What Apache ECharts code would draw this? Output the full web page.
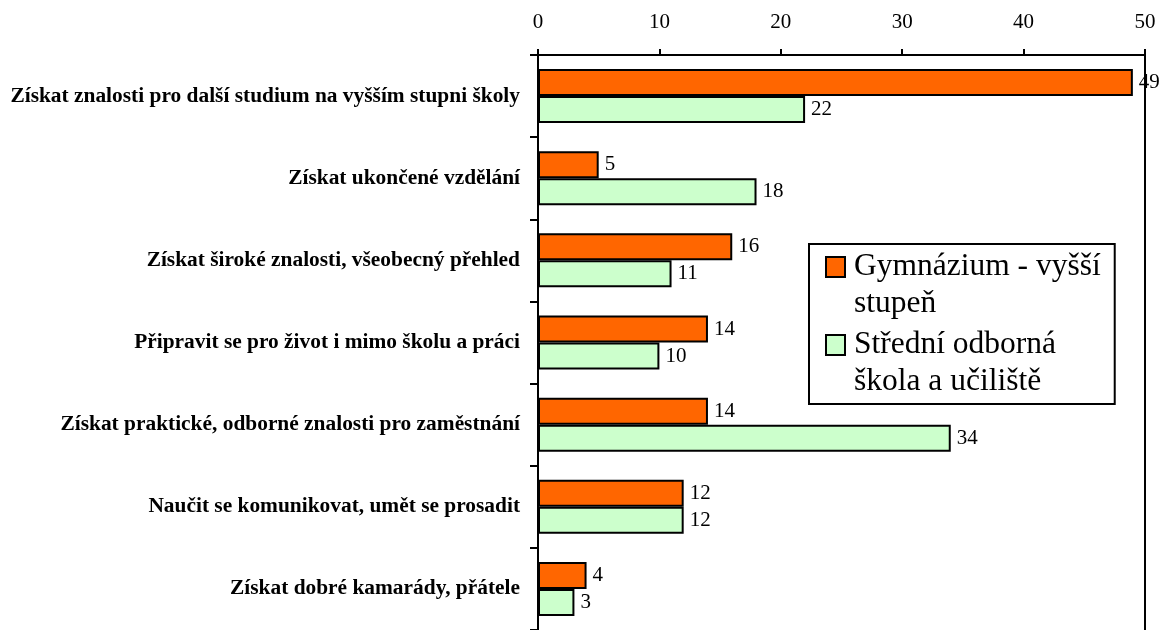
<!DOCTYPE html>
<html>
<head>
<meta charset="utf-8">
<script src="https://cdn.jsdelivr.net/npm/echarts@6/dist/echarts.min.js"></script>
<style>
  html, body { margin: 0; padding: 0; background: #fff; }
  #chart { width: 1163px; height: 630px; }
</style>
</head>
<body>
<div id="chart"></div>
<script>
  // kategorie (shora dolů)
  var categories = [
    'Získat znalosti pro další studium na vyšším stupni školy',
    'Získat ukončené vzdělání',
    'Získat široké znalosti, všeobecný přehled',
    'Připravit se pro život i mimo školu a práci',
    'Získat praktické, odborné znalosti pro zaměstnání',
    'Naučit se komunikovat, umět se prosadit',
    'Získat dobré kamarády, přátele'
  ];
  var gymnazium = [49, 5, 16, 14, 14, 12, 4];
  var stredniSkola = [22, 18, 11, 10, 34, 12, 3];
  var seriesNames = ['Gymnázium - vyšší stupeň', 'Střední odborná škola a učiliště'];
  var legendLabels = ['Gymnázium - vyšší\nstupeň', 'Střední odborná\nškola a učiliště'];

  var font = '"Liberation Serif", "Times New Roman", serif';
  var chart = echarts.init(document.getElementById('chart'));

  function valueLabel() {
    return {
      show: true,
      position: 'right',
      distance: 6,
      fontFamily: font,
      fontSize: 21,
      color: '#000'
    };
  }

  chart.setOption({
    animation: false,
    textStyle: { fontFamily: font },
    grid: { left: 538, right: 18, top: 55, bottom: -2, containLabel: false },
    legend: {
      orient: 'vertical',
      left: 809,
      top: 244,
      padding: [3, 14, 3, 16],
      itemGap: 2,
      itemWidth: 19,
      itemHeight: 74,
      // čtvereček nahoře, zbytek výšky prázdný (aby značka byla u prvního řádku)
      icon: 'path://M0,0 M0,9L19,9L19,29L0,29Z M0,74',
      backgroundColor: '#fff',
      borderColor: '#000',
      borderWidth: 2,
      borderRadius: 0,
      data: seriesNames,
      formatter: function (name) {
        return legendLabels[seriesNames.indexOf(name)];
      },
      textStyle: {
        fontFamily: font,
        fontSize: 31.5,
        lineHeight: 37,
        color: '#000',
        padding: [0, 0, 0, 4]
      }
    },
    xAxis: {
      type: 'value',
      position: 'top',
      min: 0,
      max: 50,
      interval: 10,
      axisLine: { show: true, lineStyle: { color: '#000', width: 2 } },
      axisTick: { show: true, inside: false, length: 6, lineStyle: { color: '#000', width: 2 } },
      axisLabel: { fontFamily: font, fontSize: 21, color: '#000', margin: 22 },
      splitLine: { show: false }
    },
    yAxis: [{
      type: 'category',
      inverse: true,
      data: categories,
      axisLine: { show: true, lineStyle: { color: '#000', width: 2 } },
      axisTick: { show: true, inside: false, length: 8, lineStyle: { color: '#000', width: 2 } },
      axisLabel: { fontFamily: font, fontSize: 21.4, fontWeight: 'bold', color: '#000', margin: 18 }
    }, {
      type: 'category',
      position: 'right',
      inverse: true,
      data: categories,
      axisLine: { show: true, lineStyle: { color: '#000', width: 2 } },
      axisTick: { show: false },
      axisLabel: { show: false }
    }],
    series: [{
      name: seriesNames[0],
      type: 'bar',
      data: gymnazium,
      barWidth: 27,
      barGap: '0%',
      itemStyle: { color: '#FF6600', borderColor: '#000', borderWidth: 2 },
      label: valueLabel()
    }, {
      name: seriesNames[1],
      type: 'bar',
      data: stredniSkola,
      barWidth: 27,
      barGap: '0%',
      itemStyle: { color: '#CCFFCC', borderColor: '#000', borderWidth: 2 },
      label: valueLabel()
    }]
  });
</script>
</body>
</html>
